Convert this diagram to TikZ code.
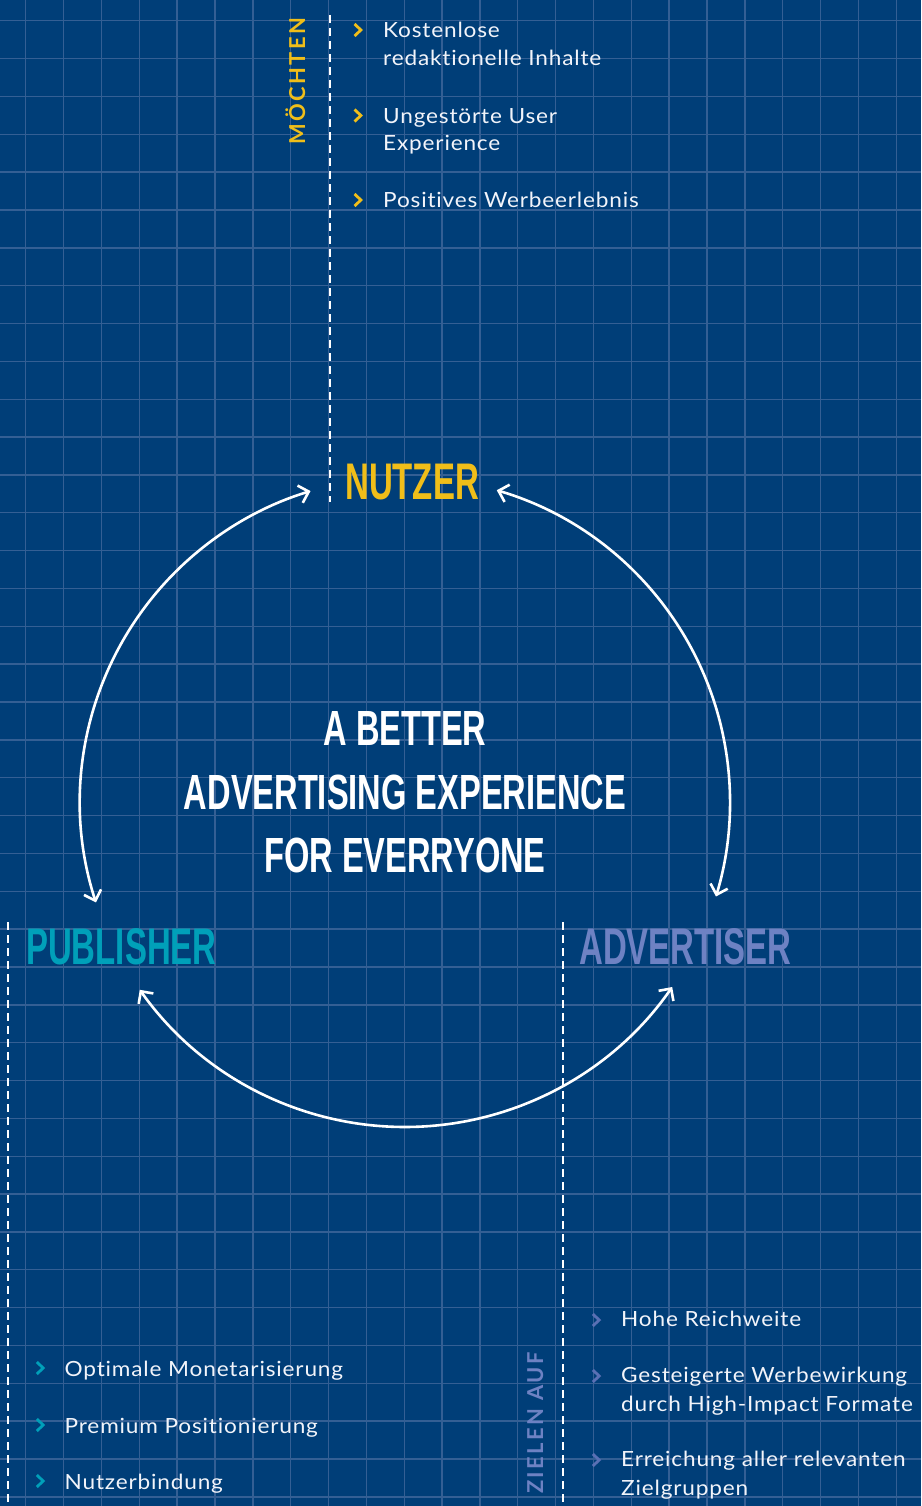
\documentclass[tikz,border=0pt]{standalone}
\usepackage{fontspec}
\setmainfont{Lato}[Ligatures=NoCommon, FakeStretch=1.08, LetterSpace=4]
\newfontfamily\headfont[FakeStretch=0.64]{Liberation Sans}
\newfontfamily\centerfont[FakeStretch=0.66]{Liberation Sans}
\newfontfamily\labelfont[LetterSpace=11, Ligatures=NoCommon]{Lato}
\usetikzlibrary{arrows.meta,calc}
\definecolor{bgblue}{RGB}{0,62,120}
\definecolor{gridblue}{RGB}{52,95,148}
\definecolor{myyellow}{RGB}{240,190,25}
\definecolor{myteal}{RGB}{0,160,185}
\definecolor{mylav}{RGB}{110,130,195}
\definecolor{mylavchev}{RGB}{90,112,180}
\definecolor{mywhite}{RGB}{242,244,250}
\tikzset{
  gridline/.style={draw=gridblue, line width=1.4bp},
  dashline/.style={draw=white, line width=2.6bp, dash pattern=on 8bp off 5bp},
  bodytext/.style={inner sep=0pt, anchor=base west, text=mywhite, font=\fontsize{21}{28}\selectfont},
  title/.style={inner sep=0pt, anchor=base west, font=\headfont\bfseries\fontsize{51.7}{60}\selectfont},
  centertext/.style={inner sep=0pt, anchor=base, text=white, font=\centerfont\bfseries\fontsize{49.6}{60}\selectfont},
  sidelabel/.style={inner sep=0pt, anchor=base west, rotate=90, font=\labelfont\bfseries\fontsize{22}{24}\selectfont},
  cyclearrow/.style={draw=white, line width=2.6bp,
    {Straight Barb[length=9bp,width=18bp,line width=2.6bp]}-{Straight Barb[length=9bp,width=18bp,line width=2.6bp]}},
  chev/.pic={\draw[line width=2.8bp, line join=miter, #1] (-3.2,-6) -- (3.2,0) -- (-3.2,6);},
}
\begin{document}
\begin{tikzpicture}[x=1bp,y=-1bp]
\useasboundingbox (0,0) rectangle (921,1506);
\fill[bgblue] (0,0) rectangle (921,1506);
% grid
\foreach \i in {0,...,23} \draw[gridline] ({25.7+37.85*\i},0) -- ({25.7+37.85*\i},1506);
\foreach \j in {0,...,39} \draw[gridline] (0,{20.7+37.85*\j}) -- (921,{20.7+37.85*\j});
% dashed lines
\coordinate (dn1) at (330,15); \coordinate (dn2) at (330,502);
\coordinate (dp1) at (8,922); \coordinate (dp2) at (8,1506);
\coordinate (da1) at (563,922); \coordinate (da2) at (563,1506);
\draw[dashline] (dn1) -- (dn2);
\draw[dashline] (dp1) -- (dp2);
\draw[dashline] (da1) -- (da2);
% titles
\node[title, text=myyellow] (nutzer) at (345,499) {NUTZER};
\node[title, text=myteal] (publisher) at (26,964) {PUBLISHER};
\node[title, text=mylav] (advertiser) at (579,964) {ADVERTISER};
% center text
\node[centertext] (c1) at (405,745) {A BETTER};
\node[centertext] (c2) at (405,809) {ADVERTISING EXPERIENCE};
\node[centertext] (c3) at (405,872) {FOR EVERRYONE};
% side labels
\node[sidelabel, text=myyellow] (moechten) at (305,145) {MÖCHTEN};
\node[sidelabel, text=mylav] (zielen) at (543,1494) {ZIELEN AUF};
% cycle arrows
\coordinate (C) at (405,802);
\coordinate (l1) at ($(C)+(162:325)$);
\coordinate (r1) at ($(C)+(-73.6:325)$);
\coordinate (b1) at ($(C)+(144.7:325)$);
\draw[cyclearrow] (l1) arc[start angle=162, end angle=253.1, radius=325];
\draw[cyclearrow] (r1) arc[start angle=-73.6, end angle=16.9, radius=325];
\draw[cyclearrow] (b1) arc[start angle=144.7, end angle=34.7, radius=325];
% top list
\pic at (357.7,30) {chev=myyellow};
\pic at (357.7,115.5) {chev=myyellow};
\pic at (357.7,200) {chev=myyellow};
\node[bodytext] (n1a) at (383,37.7) {Kostenlose};
\node[bodytext] (n1b) at (383,65.7) {redaktionelle Inhalte};
\node[bodytext] (n2a) at (383,123.3) {Ungestörte User};
\node[bodytext] (n2b) at (383,151) {Experience};
\node[bodytext] (n3a) at (383,207.3) {Positives Werbeerlebnis};
% publisher list
\pic at (40,1368) {chev=myteal};
\pic at (40,1425) {chev=myteal};
\pic at (40,1481) {chev=myteal};
\node[bodytext] (p1) at (64.5,1376) {Optimale Monetarisierung};
\node[bodytext] (p2) at (64.5,1433) {Premium Positionierung};
\node[bodytext] (p3) at (64.5,1489) {Nutzerbindung};
% advertiser list
\pic at (596,1320) {chev=mylavchev};
\pic at (596,1376) {chev=mylavchev};
\pic at (596,1460) {chev=mylavchev};
\node[bodytext] (a1) at (621,1326.7) {Hohe Reichweite};
\node[bodytext] (a2a) at (621,1382.7) {Gesteigerte Werbewirkung};
\node[bodytext] (a2b) at (621,1411) {durch High-Impact Formate};
\node[bodytext] (a3a) at (621,1466.7) {Erreichung aller relevanten};
\node[bodytext] (a3b) at (621,1495) {Zielgruppen};
\end{tikzpicture}
\end{document}
